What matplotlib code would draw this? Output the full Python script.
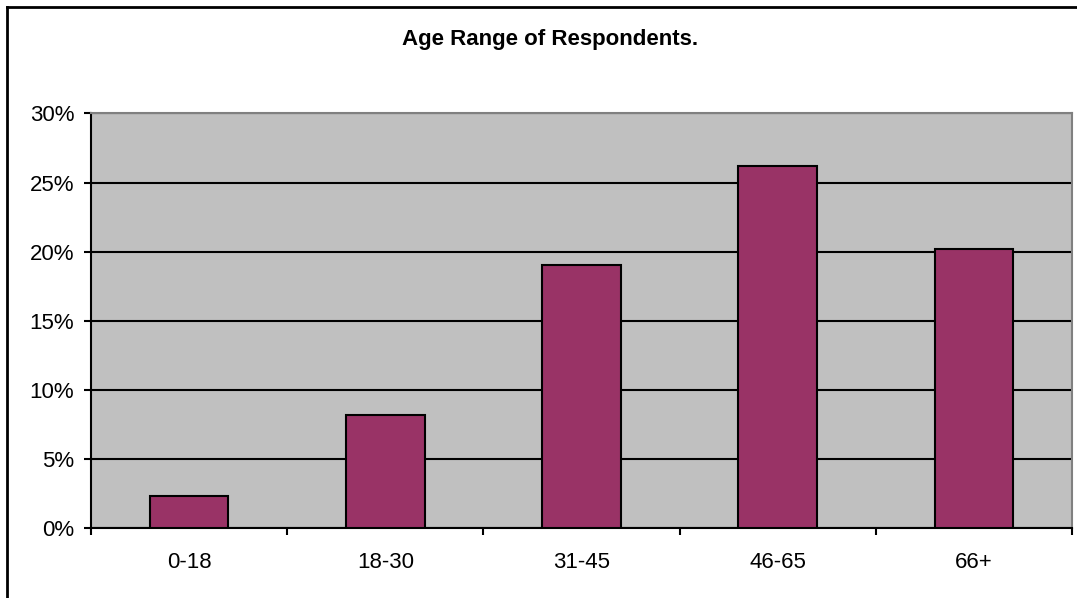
import numpy as np
import matplotlib
matplotlib.use("Agg")
import matplotlib.pyplot as plt
from matplotlib.lines import Line2D
from matplotlib.ticker import FuncFormatter

plt.rcParams['font.family'] = ['Liberation Sans', 'DejaVu Sans']

age_groups = ['0-18', '18-30', '31-45', '46-65', '66+']
share = [2.3, 8.2, 19.0, 26.2, 20.2]

W, H = 1077, 598
fig = plt.figure(figsize=(W / 100, H / 100), dpi=100)
ax = fig.add_axes([91 / W, 1 - 528 / H, (1072 - 91) / W, (528 - 113.5) / H])

ax.set_facecolor('#c0c0c0')
x = np.arange(len(age_groups))
ax.bar(x, share, width=0.4, color='#993366', edgecolor='black', linewidth=1.5, zorder=3)

ax.set_xlim(-0.5, len(age_groups) - 0.5)
ax.set_ylim(0, 30)
ax.set_yticks(np.arange(0, 31, 5))
ax.yaxis.set_major_formatter(FuncFormatter(lambda v, p: f'{v:.0f}%'))
ax.yaxis.grid(True, color='black', linewidth=1.5, zorder=1)
ax.set_axisbelow(True)

# category separators as major ticks, labels on minor ticks
ax.set_xticks(np.arange(-0.5, len(age_groups), 1))
ax.set_xticklabels([])
ax.set_xticks(x, minor=True)
ax.set_xticklabels(age_groups, minor=True)
ax.tick_params(axis='x', which='major', length=5, width=1.5, direction='out')
ax.tick_params(axis='x', which='minor', length=0, pad=17, labelsize=16)
ax.tick_params(axis='y', length=5, width=1.5, direction='out', labelsize=16, pad=7)

for side in ['left', 'bottom']:
    ax.spines[side].set_color('black')
    ax.spines[side].set_linewidth(1.5)
for side in ['top', 'right']:
    ax.spines[side].set_color('#808080')
    ax.spines[side].set_linewidth(1.5)

fig.text(550 / W, 1 - 40 / H, 'Age Range of Respondents.', ha='center', va='center',
         fontsize=16, fontweight='bold')

# chart frame (left and top edges visible)
fig.add_artist(Line2D([7 / W, 7 / W], [0, 1 - 7 / H], color='black', linewidth=2))
fig.add_artist(Line2D([7 / W, 1], [1 - 7 / H, 1 - 7 / H], color='black', linewidth=2))

fig.savefig('out.png', dpi=100)
